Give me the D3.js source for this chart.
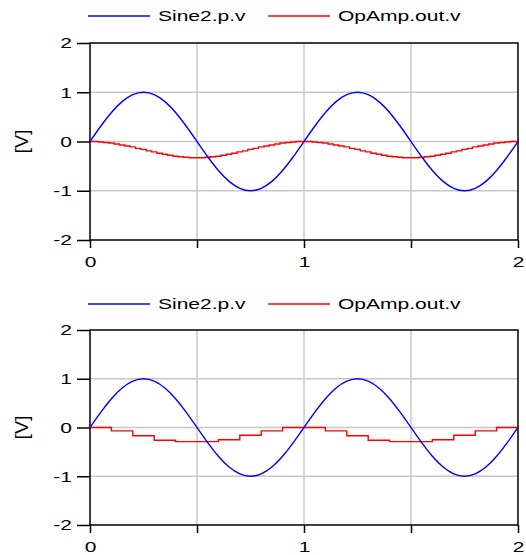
<!DOCTYPE html>
<html>
<head>
<meta charset="utf-8">
<script src="https://cdn.jsdelivr.net/npm/d3@7"></script>
<style>
  body { margin: 0; background: #fff; }
  svg text { font-family: "Liberation Sans", Arial, sans-serif; font-size: 15px; fill: #000; }
</style>
</head>
<body>
<div id="graph"></div>
<script>
// Time samples (s)
const sineTimes = [0, 0.05, 0.1, 0.15, 0.2, 0.25, 0.3, 0.35, 0.4, 0.45, 0.5, 0.55, 0.6, 0.65, 0.7, 0.75, 0.8, 0.85, 0.9, 0.95,
  1, 1.05, 1.1, 1.15, 1.2, 1.25, 1.3, 1.35, 1.4, 1.45, 1.5, 1.55, 1.6, 1.65, 1.7, 1.75, 1.8, 1.85, 1.9, 1.95, 2];
// Sine2.p.v [V]
const sineValues = [0, 0.31, 0.59, 0.81, 0.95, 1, 0.95, 0.81, 0.59, 0.31, 0, -0.31, -0.59, -0.81, -0.95, -1, -0.95, -0.81, -0.59, -0.31,
  0, 0.31, 0.59, 0.81, 0.95, 1, 0.95, 0.81, 0.59, 0.31, 0, -0.31, -0.59, -0.81, -0.95, -1, -0.95, -0.81, -0.59, -0.31, 0];

// OpAmp.out.v, top plot (fine steps every 0.025 s)
const outTopStep = 0.025;
const outTopValues = [0, 0, -0.01, -0.02, -0.03, -0.05, -0.07, -0.09, -0.11, -0.14, -0.16, -0.19, -0.21, -0.24, -0.26, -0.28,
  -0.30, -0.31, -0.32, -0.33, -0.33, -0.33, -0.32, -0.31, -0.30, -0.28, -0.26, -0.24, -0.21, -0.19, -0.16, -0.14, -0.11,
  -0.09, -0.07, -0.05, -0.03, -0.02, -0.01, 0, 0,
  0, -0.01, -0.02, -0.03, -0.05, -0.07, -0.09, -0.11, -0.14, -0.16, -0.19, -0.21, -0.24, -0.26, -0.28,
  -0.30, -0.31, -0.32, -0.33, -0.33, -0.33, -0.32, -0.31, -0.30, -0.28, -0.26, -0.24, -0.21, -0.19, -0.16, -0.14, -0.11,
  -0.09, -0.07, -0.05, -0.03, -0.02, -0.01, 0, 0];

// OpAmp.out.v, bottom plot (sample and hold every 0.1 s)
const outBottomTimes = [0, 0.1, 0.2, 0.3, 0.4, 0.5, 0.6, 0.7, 0.8, 0.9, 1, 1.1, 1.2, 1.3, 1.4, 1.5, 1.6, 1.7, 1.8, 1.9, 2];
const outBottomValues = [0, -0.07, -0.17, -0.26, -0.29, -0.29, -0.25, -0.16, -0.07, 0,
  0, -0.07, -0.17, -0.26, -0.29, -0.29, -0.25, -0.16, -0.07, 0, 0];

const xTicks = [0, 0.5, 1, 1.5, 2];
const xTickLabels = ["0", "", "1", "", "2"];
const yTicks = [-2, -1, 0, 1, 2];
const yTickLabels = ["-2", "-1", "0", "1", "2"];
const seriesNames = ["Sine2.p.v", "OpAmp.out.v"];
const seriesColors = ["#0000ff", "#ff0000"];
const yLabel = "[V]";

const fullwidth = 526;
const fullheight = 555;
const textStretch = 1.4;	// reference text is drawn wide

const svg = d3.select("#graph").append("svg")
  .attr("width", fullwidth)
  .attr("height", fullheight);

const sineData = sineTimes.map((t, i) => [t, sineValues[i]]);
const outTopData = outTopValues.map((v, i) => [i * outTopStep, v]);
const outBottomData = outBottomTimes.map((t, i) => [t, outBottomValues[i]]);

// widen a text node horizontally
function stretch(sel, k) {
  sel.each(function() {
    const len = this.getComputedTextLength();
    if (len > 0) {
      d3.select(this).attr("textLength", len * k).attr("lengthAdjust", "spacingAndGlyphs");
    }
  });
}

function drawPanel(top, bottom, legendY, redData, redCurve) {
  const x = d3.scaleLinear().domain([0, 2]).range([90, 518]);
  const y = d3.scaleLinear().domain([-2, 2]).range([bottom, top]);
  const g = svg.append("g");

  // grid
  g.selectAll(".vgrid").data(xTicks.slice(1, -1)).enter().append("line")
    .attr("x1", d => x(d)).attr("x2", d => x(d))
    .attr("y1", top).attr("y2", bottom)
    .attr("stroke", "#c8c8c8").attr("stroke-width", 1.5);
  g.selectAll(".hgrid").data(yTicks.slice(1, -1)).enter().append("line")
    .attr("x1", x(0)).attr("x2", x(2))
    .attr("y1", d => y(d)).attr("y2", d => y(d))
    .attr("stroke", "#c8c8c8").attr("stroke-width", 1.5);

  // axes
  const yAxis = d3.axisLeft(y).tickValues(yTicks).tickSize(13).tickPadding(5).tickFormat((d, i) => yTickLabels[i]);
  const yg = g.append("g").attr("transform", `translate(${x(0)},0)`).call(yAxis);
  const xAxis = d3.axisBottom(x).tickValues(xTicks).tickSize(8).tickPadding(8).tickFormat((d, i) => xTickLabels[i]);
  const xg = g.append("g").attr("transform", `translate(0,${bottom})`).call(xAxis);
  [yg, xg].forEach(a => {
    a.select(".domain").remove();
    a.selectAll("line").attr("stroke", "#000").attr("stroke-width", 1.5);
    a.selectAll("text").style("font-size", "15px").attr("fill", "#000").call(stretch, textStretch);
  });

  // frame
  g.append("rect")
    .attr("x", x(0)).attr("y", top)
    .attr("width", x(2) - x(0)).attr("height", bottom - top)
    .attr("fill", "none").attr("stroke", "#000").attr("stroke-width", 1.5);

  g.append("text")
    .attr("transform", `translate(28,${(top + bottom) / 2}) rotate(-90)`)
    .attr("text-anchor", "middle")
    .style("font-size", "18px")
    .text(yLabel)
    .call(stretch, 1.1);

  // lines
  const line = d3.line().x(d => x(d[0])).y(d => y(d[1]));
  g.append("path").datum(redData)
    .attr("fill", "none").attr("stroke", seriesColors[1]).attr("stroke-width", 1.4)
    .attr("d", line.curve(redCurve));
  g.append("path").datum(sineData)
    .attr("fill", "none").attr("stroke", seriesColors[0]).attr("stroke-width", 1.4)
    .attr("d", line.curve(d3.curveNatural));

  // legend
  const legendX = [88, 268];
  seriesNames.forEach((name, i) => {
    g.append("line")
      .attr("x1", legendX[i]).attr("x2", legendX[i] + 62)
      .attr("y1", legendY).attr("y2", legendY)
      .attr("stroke", seriesColors[i]).attr("stroke-width", 1.4);
    g.append("text")
      .attr("x", legendX[i] + 70).attr("y", legendY + 5)
      .text(name)
      .call(stretch, textStretch);
  });
}

drawPanel(43, 240, 16, outTopData, d3.curveStep);
drawPanel(330, 525, 304, outBottomData, d3.curveStepAfter);
</script>
</body>
</html>
